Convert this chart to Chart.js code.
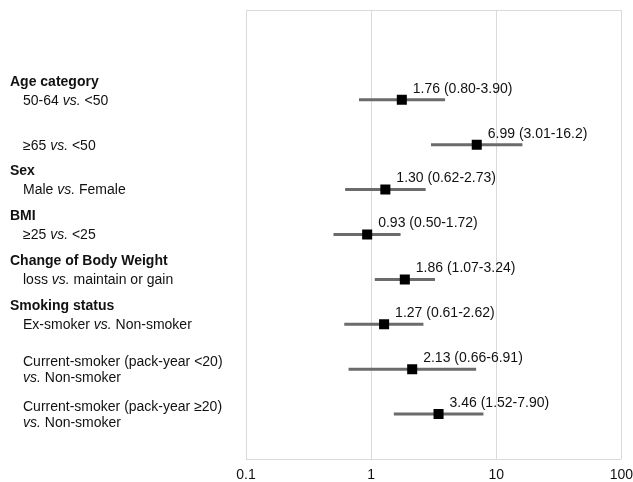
<!DOCTYPE html>
<html>
<head>
<meta charset="utf-8">
<script src="https://cdn.jsdelivr.net/npm/chart.js@4/dist/chart.umd.min.js"></script>
<style>
  html, body { margin: 0; padding: 0; background: #ffffff; }
  #wrap { width: 633px; height: 482px; position: relative; }
</style>
</head>
<body>
<div id="wrap"><canvas id="c" width="633" height="482"></canvas></div>
<script>
// Odds ratios with 95% confidence intervals, one entry per comparison row
const comparisons = [
  '50-64 _vs._ <50',
  '≥65 _vs._ <50',
  'Male _vs._ Female',
  '≥25 _vs._ <25',
  'loss _vs._ maintain or gain',
  'Ex-smoker _vs._ Non-smoker',
  'Current-smoker (pack-year <20)|_vs._ Non-smoker',
  'Current-smoker (pack-year ≥20)|_vs._ Non-smoker'
];
const groupHeaders = ['Age category', null, 'Sex', 'BMI', 'Change of Body Weight', 'Smoking status', null, null];
const oddsRatio = [1.76, 6.99, 1.30, 0.93, 1.86, 1.27, 2.13, 3.46];
const ciLower   = [0.80, 3.01, 0.62, 0.50, 1.07, 0.61, 0.66, 1.52];
const ciUpper   = [3.90, 16.2, 2.73, 1.72, 3.24, 2.62, 6.91, 7.90];
const rowSlot   = [2, 3, 4, 5, 6, 7, 8, 9];
const xTickValues = [0.1, 1, 10, 100];
const xTickLabels = ['0.1', '1', '10', '100'];

const FONT = '"Liberation Sans", Arial, sans-serif';
const SIZE = 14;
const fmt = v => (v >= 10 ? v.toFixed(1) : v.toFixed(2));

// Confidence interval whiskers: one short line dataset per row
const ciSets = oddsRatio.map((_, i) => ({
  type: 'line',
  data: [{ x: ciLower[i], y: rowSlot[i] }, { x: ciUpper[i], y: rowSlot[i] }],
  borderColor: '#6b6b6b',
  borderWidth: 3,
  pointRadius: 0,
  borderCapStyle: 'butt',
  order: 2
}));

const pointSet = {
  type: 'scatter',
  data: oddsRatio.map((v, i) => ({ x: v, y: rowSlot[i] })),
  pointStyle: 'rect',
  pointRadius: 7.1,
  pointHoverRadius: 7.1,
  backgroundColor: '#000000',
  borderWidth: 0,
  order: 1
};

// Draws a string with _italic_ segments starting at x
function drawRich(ctx, text, x, y, weight) {
  const parts = text.split('_');
  let cx = x;
  parts.forEach((p, k) => {
    if (!p) return;
    ctx.font = (k % 2 ? 'italic ' : '') + weight + ' ' + SIZE + 'px ' + FONT;
    ctx.fillText(p, cx, y);
    cx += ctx.measureText(p).width;
  });
}

const labelPlugin = {
  id: 'forestLabels',
  afterDatasetsDraw(chart) {
    const { ctx, scales } = chart;
    const xs = scales.x, ys = scales.y;
    ctx.save();
    ctx.fillStyle = '#111111';
    ctx.textBaseline = 'middle';
    ctx.textAlign = 'left';
    oddsRatio.forEach((v, i) => {
      const px = xs.getPixelForValue(v);
      const py = ys.getPixelForValue(rowSlot[i]);
      // estimate with its interval, just above the marker
      ctx.font = SIZE + 'px ' + FONT;
      ctx.fillText(fmt(v) + ' (' + fmt(ciLower[i]) + '-' + fmt(ciUpper[i]) + ')', px + 11, py - 11);
      // row description on the left
      const lines = comparisons[i].split('|');
      if (lines.length === 1) {
        drawRich(ctx, lines[0], 23, py + 1, 'normal');
      } else {
        drawRich(ctx, lines[0], 23, py - 7, 'normal');
        drawRich(ctx, lines[1], 23, py + 9, 'normal');
      }
      if (groupHeaders[i]) {
        drawRich(ctx, groupHeaders[i], 10, py - 18, 'bold');
      }
    });
    ctx.restore();
  }
};

new Chart(document.getElementById('c'), {
  data: { datasets: [...ciSets, pointSet] },
  options: {
    responsive: false,
    animation: false,
    events: [],
    layout: { padding: { left: 246, top: 10, right: 0, bottom: 0 } },
    plugins: { legend: { display: false }, tooltip: { enabled: false } },
    scales: {
      x: {
        type: 'logarithmic',
        min: 0.1,
        max: 100,
        afterBuildTicks: axis => { axis.ticks = xTickValues.map(v => ({ value: v })); },
        afterFit: axis => {
          // let the last tick label run to the canvas edge; keep the axis band compact
          axis.paddingRight = Math.max(axis.paddingRight - axis.options.ticks.padding, 0);
          axis.paddingLeft = 0;
          axis.height = 23;
        },
        ticks: {
          autoSkip: false,
          maxRotation: 0,
          padding: 8,
          color: '#111111',
          font: { family: FONT, size: SIZE },
          callback: (v) => xTickLabels[xTickValues.indexOf(v)]
        },
        grid: { color: '#d9d9d9', lineWidth: 1, drawTicks: false },
        border: { display: false }
      },
      y: {
        type: 'linear',
        min: 0,
        max: 10,
        reverse: true,
        afterBuildTicks: axis => { axis.ticks = [{ value: 0 }, { value: 10 }]; },
        ticks: { display: false },
        grid: { color: '#d9d9d9', lineWidth: 1, drawTicks: false },
        border: { display: false }
      }
    }
  },
  plugins: [labelPlugin]
});
</script>
</body>
</html>
